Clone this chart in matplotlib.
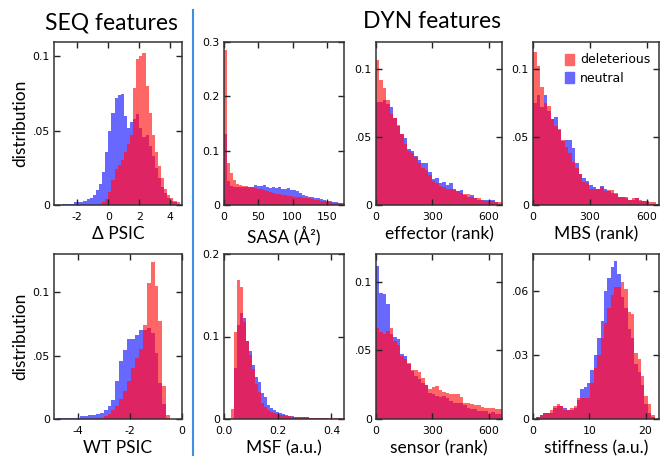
import numpy as np
import matplotlib
matplotlib.use("Agg")
import matplotlib.pyplot as plt
from matplotlib.patches import Patch
from matplotlib.lines import Line2D

# histogram heights (deleterious = red, neutral = blue)
dpsic_edges = np.arange(-3.0, 4.61, 0.2)
dpsic_del = [0, 0, 0, 0, 0, 0, 0, 0, 0, 0, 0, 0, 0,
             0.002, 0.004, 0.009, 0.017, 0.024, 0.027, 0.030, 0.036, 0.041, 0.047,
             0.079, 0.098, 0.100, 0.102, 0.080, 0.062, 0.047, 0.036, 0.026, 0.018,
             0.011, 0.007, 0.005, 0.003, 0.002]
dpsic_neu = [0.001, 0.001, 0.001, 0.001, 0.002, 0.002, 0.002, 0.003, 0.004, 0.005,
             0.007, 0.010, 0.014, 0.022, 0.036, 0.050, 0.062, 0.072, 0.074, 0.075,
             0.060, 0.052, 0.056, 0.058, 0.061, 0.052, 0.046, 0.047, 0.040, 0.033,
             0.025, 0.018, 0.012, 0.008, 0.005, 0.003, 0.002, 0.001]

sasa_edges = np.linspace(0, 175, 41)
sasa_del = [0.285, 0.077, 0.058, 0.046, 0.038, 0.037, 0.035, 0.035, 0.034, 0.033,
            0.031, 0.030, 0.030, 0.028, 0.026, 0.024, 0.022, 0.021, 0.020, 0.019,
            0.018, 0.017, 0.016, 0.015, 0.014, 0.014, 0.013, 0.012, 0.012, 0.011,
            0.010, 0.009, 0.008, 0.007, 0.006, 0.005, 0.004, 0.004, 0.003, 0.002]
sasa_neu = [0.131, 0.044, 0.035, 0.034, 0.034, 0.033, 0.034, 0.033, 0.033, 0.034,
            0.037, 0.035, 0.035, 0.036, 0.033, 0.032, 0.034, 0.031, 0.033, 0.029,
            0.030, 0.032, 0.028, 0.028, 0.025, 0.022, 0.019, 0.017, 0.015, 0.014,
            0.012, 0.012, 0.011, 0.009, 0.008, 0.007, 0.006, 0.005, 0.004, 0.003]

rank_edges = np.linspace(0, 670, 37)
effector_del = [0.107, 0.092, 0.086, 0.077, 0.067, 0.064, 0.059, 0.052, 0.045, 0.040,
                0.038, 0.035, 0.031, 0.027, 0.026, 0.022, 0.018, 0.016, 0.014, 0.013,
                0.012, 0.012, 0.011, 0.010, 0.009, 0.008, 0.008, 0.006, 0.005, 0.005,
                0.004, 0.003, 0.003, 0.003, 0.002, 0.002]
effector_neu = [0.076, 0.076, 0.077, 0.074, 0.072, 0.064, 0.058, 0.052, 0.049, 0.041,
                0.040, 0.036, 0.033, 0.031, 0.031, 0.024, 0.019, 0.020, 0.016, 0.017,
                0.015, 0.016, 0.012, 0.010, 0.011, 0.007, 0.006, 0.007, 0.005, 0.004,
                0.004, 0.004, 0.004, 0.004, 0.002, 0.001]

mbs_del = [0.113, 0.102, 0.087, 0.075, 0.073, 0.063, 0.058, 0.056, 0.048, 0.043,
           0.038, 0.032, 0.027, 0.023, 0.017, 0.016, 0.012, 0.012, 0.012, 0.013,
           0.010, 0.011, 0.011, 0.009, 0.006, 0.006, 0.006, 0.004, 0.005, 0.005,
           0.004, 0.003, 0.002, 0.002, 0.002, 0.001]
mbs_neu = [0.075, 0.081, 0.072, 0.081, 0.069, 0.063, 0.065, 0.055, 0.047, 0.048,
           0.048, 0.042, 0.031, 0.023, 0.020, 0.018, 0.015, 0.013, 0.012, 0.014,
           0.012, 0.010, 0.009, 0.008, 0.006, 0.006, 0.005, 0.004, 0.004, 0.005,
           0.003, 0.003, 0.003, 0.001, 0.001, 0.001]

wtpsic_edges = np.arange(-4.8, -0.44, 0.15)
wtpsic_del = [0, 0, 0, 0, 0, 0, 0, 0, 0, 0, 0,
              0.001, 0.002, 0.004, 0.007, 0.010, 0.016, 0.022, 0.030, 0.040, 0.048,
              0.055, 0.074, 0.107, 0.124, 0.105, 0.077, 0.026, 0.003]
wtpsic_neu = [0.001, 0.001, 0.001, 0.001, 0.001, 0.001, 0.002, 0.002, 0.003, 0.003,
              0.004, 0.005, 0.007, 0.010, 0.015, 0.030, 0.046, 0.054, 0.063, 0.063,
              0.066, 0.070, 0.070, 0.072, 0.068, 0.052, 0.028, 0.012, 0.001]

msf_edges = 0.0255 + 0.0112 * np.arange(38)
msf_del = [0.012, 0.106, 0.168, 0.160, 0.118, 0.094, 0.078, 0.061, 0.043, 0.033,
           0.019, 0.015, 0.011, 0.009, 0.007, 0.006, 0.005, 0.005, 0.004, 0.004,
           0.003, 0.003, 0.003, 0.002, 0.002, 0.002, 0.001, 0.001, 0.001, 0.001,
           0.001, 0.001, 0.001, 0.001, 0.001, 0.001, 0.001]
msf_neu = [0.0, 0.062, 0.114, 0.128, 0.123, 0.094, 0.082, 0.066, 0.051, 0.045,
           0.031, 0.027, 0.017, 0.013, 0.011, 0.009, 0.007, 0.006, 0.005, 0.004,
           0.004, 0.003, 0.003, 0.002, 0.002, 0.002, 0.001, 0.001, 0.001, 0.001,
           0.001, 0.001, 0.0, 0.0, 0.0, 0.0, 0.0]

sensor_del = [0.066, 0.063, 0.062, 0.064, 0.066, 0.057, 0.054, 0.046, 0.044, 0.041,
              0.036, 0.036, 0.034, 0.030, 0.025, 0.022, 0.023, 0.024, 0.021, 0.020,
              0.019, 0.018, 0.018, 0.018, 0.016, 0.012, 0.012, 0.011, 0.010, 0.010,
              0.009, 0.008, 0.008, 0.008, 0.007, 0.007]
sensor_neu = [0.111, 0.092, 0.091, 0.084, 0.062, 0.060, 0.058, 0.047, 0.046, 0.040,
              0.035, 0.031, 0.029, 0.026, 0.025, 0.019, 0.018, 0.017, 0.016, 0.017,
              0.015, 0.013, 0.012, 0.012, 0.012, 0.010, 0.008, 0.007, 0.007, 0.006,
              0.006, 0.006, 0.004, 0.005, 0.004, 0.004]

stiff_edges = 0.6 + 0.6 * np.arange(36)
stiff_del = [0.001, 0.002, 0.003, 0.003, 0.004, 0.006, 0.007, 0.006, 0.004, 0.004,
             0.005, 0.006, 0.010, 0.010, 0.010, 0.010, 0.017, 0.024, 0.030, 0.038,
             0.045, 0.052, 0.058, 0.062, 0.062, 0.064, 0.061, 0.050, 0.049, 0.031,
             0.028, 0.020, 0.011, 0.007, 0.002]
stiff_neu = [0.001, 0.002, 0.003, 0.003, 0.003, 0.005, 0.006, 0.006, 0.005, 0.004,
             0.004, 0.005, 0.009, 0.014, 0.015, 0.017, 0.023, 0.030, 0.038, 0.046,
             0.060, 0.066, 0.071, 0.074, 0.068, 0.057, 0.052, 0.042, 0.038, 0.026,
             0.022, 0.016, 0.007, 0.003, 0.001]

RED = "#ff6666"
BLUE = "#6868ff"
BOTH = "#de2462"
BIG_FONT = "Lato"

plt.rcParams["font.family"] = "DejaVu Sans"
plt.rcParams["axes.unicode_minus"] = False

W, H = 660, 458


def add_axes(fig, left, top, right, bottom):
    return fig.add_axes([left / W, 1 - bottom / H, (right - left) / W, (bottom - top) / H])


def draw_hist(ax, edges, deleterious, neutral):
    edges = np.asarray(edges)
    widths = np.diff(edges)
    d = np.asarray(deleterious)
    n = np.asarray(neutral)
    ax.bar(edges[:-1], n, width=widths, align="edge", color=BLUE, linewidth=0)
    ax.bar(edges[:-1], d, width=widths, align="edge", color=RED, linewidth=0)
    ax.bar(edges[:-1], np.minimum(d, n), width=widths, align="edge", color=BOTH, linewidth=0)


def style_axes(ax, xlim, ylim, xticks, yticks, yticklabels, xlabel):
    ax.set_xlim(*xlim)
    ax.set_ylim(*ylim)
    ax.set_xticks(xticks)
    ax.set_yticks(yticks)
    ax.set_yticklabels(yticklabels)
    ax.tick_params(direction="in", top=True, right=True, length=4, width=1,
                   labelsize=7.8, color="#222222")
    ax.tick_params(axis="x", pad=5)
    ax.tick_params(axis="y", pad=3)
    for sp in ax.spines.values():
        sp.set_color("#333333")
        sp.set_linewidth(1.1)
    ax.set_xlabel(xlabel, fontsize=12.5, family=BIG_FONT, labelpad=3)


def main():
    fig = plt.figure(figsize=(W / 100, H / 100), dpi=100)

    top_row = (42, 205)
    bot_row = (254, 419)
    cols = [(54, 182), (224, 344), (376, 502), (533, 659)]

    panels = [
        (0, 0, dpsic_edges, dpsic_del, dpsic_neu, (-3.5, 4.75), (0, 0.1097),
         [-2, 0, 2, 4], [0, 0.05, 0.1], ["0", ".05", "0.1"], "\u0394 PSIC"),
        (0, 1, sasa_edges, sasa_del, sasa_neu, (0, 175), (0, 0.3),
         [0, 50, 100, 150], [0, 0.1, 0.2, 0.3], ["0", "0.1", "0.2", "0.3"], "SASA (\u00c5\u00b2)"),
        (0, 2, rank_edges, effector_del, effector_neu, (0, 672), (0, 0.12),
         [0, 300, 600], [0, 0.05, 0.1], ["0", ".05", "0.1"], "effector (rank)"),
        (0, 3, rank_edges, mbs_del, mbs_neu, (0, 665), (0, 0.12),
         [0, 300, 600], [0, 0.05, 0.1], ["0", ".05", "0.1"], "MBS (rank)"),
        (1, 0, wtpsic_edges, wtpsic_del, wtpsic_neu, (-4.9, 0), (0, 0.13),
         [-4, -2, 0], [0, 0.05, 0.1], ["0", ".05", "0.1"], "WT PSIC"),
        (1, 1, msf_edges, msf_del, msf_neu, (0, 0.447), (0, 0.2),
         [0, 0.2, 0.4], [0, 0.1, 0.2], ["0", "0.1", "0.2"], "MSF (a.u.)"),
        (1, 2, rank_edges, sensor_del, sensor_neu, (0, 672), (0, 0.12),
         [0, 300, 600], [0, 0.05, 0.1], ["0", ".05", "0.1"], "sensor (rank)"),
        (1, 3, stiff_edges, stiff_del, stiff_neu, (0, 22.4), (0, 0.0773),
         [0, 10, 20], [0, 0.03, 0.06], ["0", ".03", ".06"], "stiffness (a.u.)"),
    ]

    axes = {}
    for row, col, edges, d, n, xlim, ylim, xt, yt, ytl, xlabel in panels:
        top, bottom = top_row if row == 0 else bot_row
        left, right = cols[col]
        ax = add_axes(fig, left, top, right, bottom)
        draw_hist(ax, edges, d, n)
        style_axes(ax, xlim, ylim, xt, yt, ytl, xlabel)
        if col == 0:
            ax.set_ylabel("distribution", fontsize=12.5, family=BIG_FONT)
            ax.yaxis.set_label_coords(-0.2, 0.5)
        axes[(row, col)] = ax

    handles = [Patch(color=RED), Patch(color=BLUE)]
    axes[(0, 3)].legend(handles, ["deleterious", "neutral"], loc="upper left",
                        bbox_to_anchor=(0.25, 0.93), frameon=False, fontsize=9,
                        handlelength=0.75, handleheight=1.0, handletextpad=0.5,
                        labelspacing=0.45, borderpad=0, borderaxespad=0)

    fig.text(111 / W, 1 - 23 / H, "SEQ features", ha="center", va="center",
             fontsize=16.5, family=BIG_FONT)
    fig.text(432 / W, 1 - 22 / H, "DYN features", ha="center", va="center",
             fontsize=16.5, family=BIG_FONT)
    fig.add_artist(Line2D([193 / W, 193 / W], [1 - 10 / H, 1 - 455 / H],
                          color="#3f8fe0", linewidth=1.5))

    fig.savefig("out.png", dpi=100)


if __name__ == "__main__":
    main()
